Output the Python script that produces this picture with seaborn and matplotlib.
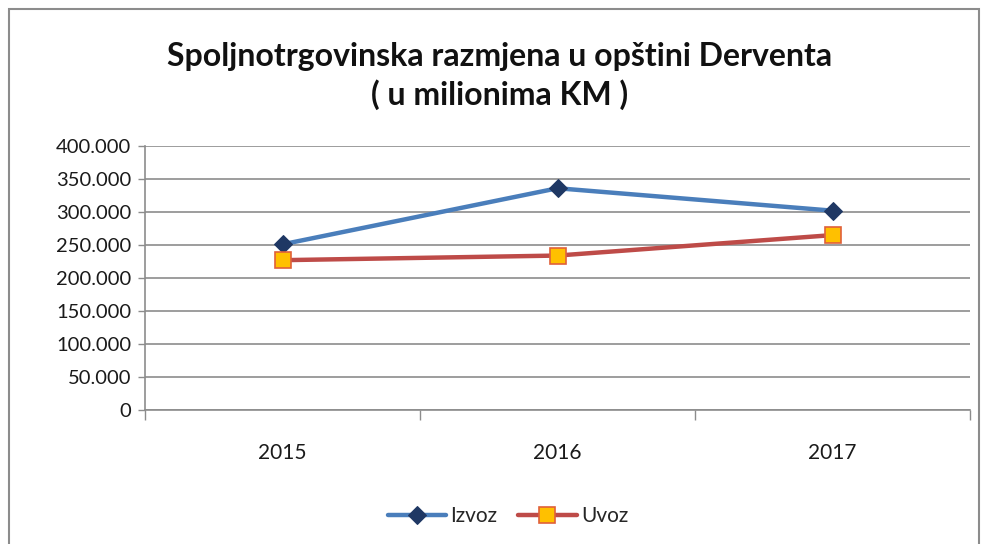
import numpy as np
import pandas as pd
import matplotlib
matplotlib.use("Agg")
import matplotlib.pyplot as plt
import seaborn as sns
from matplotlib.ticker import FuncFormatter, FixedLocator
from matplotlib.patches import Rectangle

# podaci (u milionima KM)
years = ["2015", "2016", "2017"]
izvoz = [251.0, 336.0, 302.0]
uvoz = [227.0, 234.0, 265.0]
series_names = ["Izvoz", "Uvoz"]
title = "Spoljnotrgovinska razmjena u opštini Derventa\n( u milionima KM )"

sns.set_theme(style="white")
plt.rcParams["font.family"] = ["Lato", "DejaVu Sans"]

df = pd.DataFrame({"godina": years, "Izvoz": izvoz, "Uvoz": uvoz})

fig = plt.figure(figsize=(9.84, 5.44), dpi=100)
ax = fig.add_axes([145 / 984, 1 - 410 / 544, (970 - 145) / 984, (410 - 146) / 544])

sns.lineplot(data=df, x="godina", y="Izvoz", ax=ax, color="#4a7ebb", lw=3.2,
             marker="D", markersize=9, markerfacecolor="#1f3864",
             markeredgecolor="#1f3864", label=series_names[0], sort=False)
sns.lineplot(data=df, x="godina", y="Uvoz", ax=ax, color="#be4b48", lw=3.2,
             marker="s", markersize=12, markerfacecolor="#ffc000",
             markeredgecolor="#e0603a", markeredgewidth=1.2,
             label=series_names[1], sort=False)

ax.set_xlim(-0.5, len(years) - 0.5)
ax.set_ylim(0, 400)
ax.set_yticks(np.arange(0, 401, 50))
ax.yaxis.set_major_formatter(FuncFormatter(lambda v, p: "0" if v == 0 else f"{v:.3f}"))
ax.grid(axis="y", color="#8c8c8c", lw=1.2)
ax.set_axisbelow(True)
ax.set_xlabel("")
ax.set_ylabel("")

# tick marks between categories
ax.xaxis.set_minor_locator(FixedLocator(np.arange(-0.5, len(years), 1.0)))
ax.tick_params(axis="x", which="minor", length=7, width=1, color="#8c8c8c",
               direction="out", bottom=True)
ax.tick_params(axis="x", which="major", length=0, pad=24, labelsize=15,
               labelcolor="#1a1a1a")
ax.tick_params(axis="y", which="major", length=5, width=1, color="#8c8c8c",
               direction="out", left=True, pad=5, labelsize=14.5,
               labelcolor="#1a1a1a")

for s in ["top", "right"]:
    ax.spines[s].set_visible(False)
for s in ["left", "bottom"]:
    ax.spines[s].set_color("#8c8c8c")
    ax.spines[s].set_linewidth(1.2)

fig.text(0.508, 1 - 76 / 544, title, ha="center", va="center", fontsize=23,
         fontweight="bold", linespacing=1.35, color="#111111")

leg = ax.legend(loc="center", bbox_to_anchor=(508 / 984, 1 - 516 / 544),
                bbox_transform=fig.transFigure, ncol=2, frameon=False,
                fontsize=15, handlelength=2.8, columnspacing=1.0,
                handletextpad=0.2)

fig.patches.append(Rectangle((9 / 984, -0.02), (979 - 9) / 984, 1.02 - 9 / 544,
                             transform=fig.transFigure, fill=False,
                             edgecolor="#8c8c8c", lw=1.5))

fig.savefig("out.png", dpi=100, facecolor="white")
